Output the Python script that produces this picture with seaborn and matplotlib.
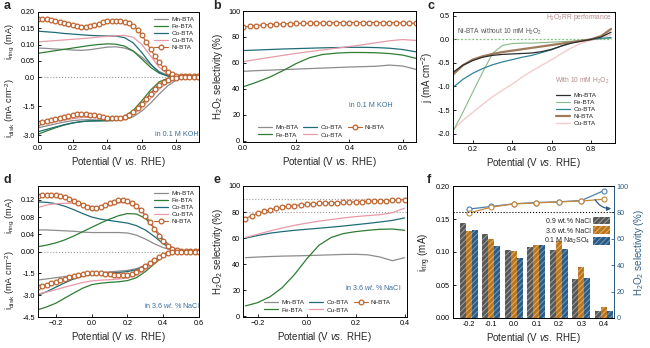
import numpy as np
import pandas as pd
import matplotlib
matplotlib.use("Agg")
import matplotlib.pyplot as plt
from matplotlib.patches import Patch
import seaborn as sns

# ---------------- data ----------------
# panel a (0.1 M KOH), ring current (mA) and disk current (mA cm-2)
A_X = [0.00, 0.05, 0.10, 0.15, 0.20, 0.25, 0.30, 0.35, 0.40, 0.45,
       0.50, 0.55, 0.60, 0.65, 0.70, 0.75, 0.80, 0.85, 0.90, 0.95]
A_RING_MN = [0.089, 0.088, 0.086, 0.085, 0.083, 0.082, 0.084, 0.088, 0.092, 0.093,
             0.089, 0.080, 0.061, 0.038, 0.017, 0.005, 0.002, 0.002, 0.002, 0.002]
A_RING_FE = [0.073, 0.077, 0.081, 0.085, 0.089, 0.093, 0.097, 0.100, 0.102, 0.101,
             0.095, 0.080, 0.055, 0.030, 0.012, 0.003, 0.002, 0.002, 0.002, 0.002]
A_RING_CO = [0.141, 0.139, 0.137, 0.134, 0.132, 0.130, 0.128, 0.127, 0.126, 0.126,
             0.121, 0.105, 0.075, 0.040, 0.014, 0.003, 0.002, 0.002, 0.002, 0.002]
A_RING_CU = [0.108, 0.110, 0.112, 0.114, 0.116, 0.118, 0.120, 0.123, 0.125, 0.127,
             0.128, 0.122, 0.100, 0.065, 0.030, 0.010, 0.003, 0.002, 0.002, 0.002]
A_DISK_MN = [-2.62, -2.52, -2.42, -2.32, -2.25, -2.21, -2.20, -2.22, -2.24, -2.24,
             -2.20, -2.05, -1.75, -1.35, -0.88, -0.45, -0.15, -0.04, -0.01, -0.01]
A_DISK_FE = [-2.95, -2.78, -2.62, -2.48, -2.37, -2.30, -2.26, -2.24, -2.22, -2.17,
             -2.03, -1.72, -1.22, -0.68, -0.25, -0.07, -0.02, -0.01, -0.01, -0.01]
A_DISK_CO = [-2.82, -2.70, -2.58, -2.46, -2.37, -2.30, -2.27, -2.27, -2.26, -2.23,
             -2.12, -1.85, -1.40, -0.85, -0.38, -0.12, -0.03, -0.01, -0.01, -0.01]
A_DISK_CU = [-2.45, -2.38, -2.30, -2.22, -2.15, -2.09, -2.07, -2.10, -2.15, -2.17,
             -2.12, -1.92, -1.55, -1.10, -0.62, -0.27, -0.08, -0.02, -0.01, -0.01]
A_X_NI = [0.000, 0.025, 0.050, 0.075, 0.100, 0.125, 0.150, 0.175, 0.200, 0.225,
          0.250, 0.275, 0.300, 0.325, 0.350, 0.375, 0.400, 0.425, 0.450, 0.475,
          0.500, 0.525, 0.550, 0.575, 0.600, 0.625, 0.650, 0.675, 0.700, 0.725,
          0.750, 0.775, 0.800, 0.825, 0.850, 0.875, 0.900, 0.925, 0.950]
A_RING_NI = [0.178, 0.178, 0.177, 0.175, 0.173, 0.170, 0.166, 0.162, 0.159, 0.157,
             0.155, 0.155, 0.157, 0.160, 0.164, 0.168, 0.171, 0.172, 0.172, 0.171,
             0.169, 0.165, 0.158, 0.146, 0.130, 0.108, 0.085, 0.064, 0.045, 0.028,
             0.015, 0.008, 0.004, 0.003, 0.003, 0.003, 0.003, 0.003, 0.003]
A_DISK_NI = [-2.35, -2.32, -2.28, -2.22, -2.16, -2.10, -2.04, -1.99, -1.95, -1.93,
             -1.92, -1.92, -1.94, -1.98, -2.03, -2.07, -2.10, -2.12, -2.12, -2.10,
             -2.05, -1.96, -1.82, -1.62, -1.38, -1.12, -0.86, -0.62, -0.42, -0.26,
             -0.14, -0.07, -0.03, -0.02, -0.01, -0.01, -0.01, -0.01, -0.01]

# panel b (0.1 M KOH), H2O2 selectivity (%)
B_X = [0.00, 0.05, 0.10, 0.15, 0.20, 0.25, 0.30, 0.35, 0.40, 0.45, 0.50, 0.55, 0.60, 0.65]
B_MN = [53.5, 54.0, 54.4, 54.8, 55.2, 55.6, 56.0, 56.4, 56.8, 57.1, 57.4, 58.3, 57.6, 55.0]
B_FE = [41.5, 45.0, 49.0, 54.0, 59.5, 64.0, 66.5, 67.5, 68.0, 68.0, 67.8, 67.2, 66.0, 63.5]
B_CO = [69.5, 69.9, 70.3, 70.7, 71.0, 71.3, 71.6, 71.8, 72.0, 72.0, 71.8, 71.3, 70.3, 68.5]
B_CU = [61.0, 62.6, 64.2, 65.8, 67.3, 68.7, 70.0, 71.3, 72.6, 74.0, 75.5, 77.0, 78.0, 77.3]
B_X_NI = [0.000, 0.025, 0.050, 0.075, 0.100, 0.125, 0.150, 0.175, 0.200, 0.225,
          0.250, 0.275, 0.300, 0.325, 0.350, 0.375, 0.400, 0.425, 0.450, 0.475,
          0.500, 0.525, 0.550, 0.575, 0.600, 0.625, 0.650]
B_NI = [87.5, 88.3, 88.8, 89.2, 89.5, 89.8, 90.0, 90.2, 90.4, 90.5,
        90.6, 90.7, 90.8, 90.9, 91.0, 91.0, 91.1, 91.1, 91.1, 91.1,
        91.1, 91.0, 91.0, 90.9, 90.8, 90.7, 90.5]

# panel c (H2O2RR), j (mA cm-2)
C_X = [0.10, 0.15, 0.20, 0.25, 0.30, 0.35, 0.40, 0.45, 0.50, 0.55,
       0.60, 0.65, 0.70, 0.75, 0.80, 0.85, 0.90]
C_MN = [-0.70, -0.55, -0.45, -0.38, -0.34, -0.32, -0.31, -0.30, -0.29, -0.26,
        -0.21, -0.14, -0.08, -0.04, 0.00, 0.05, 0.15]
C_FE = [-1.95, -1.55, -1.12, -0.70, -0.30, -0.13, -0.09, -0.08, -0.08, -0.07,
        -0.06, -0.05, -0.04, -0.02, 0.00, 0.01, 0.02]
C_CO = [-1.02, -0.85, -0.72, -0.62, -0.54, -0.48, -0.43, -0.38, -0.34, -0.28,
        -0.22, -0.14, -0.07, -0.03, 0.00, 0.02, 0.04]
C_NI = [-0.75, -0.55, -0.43, -0.36, -0.31, -0.27, -0.24, -0.21, -0.18, -0.15,
        -0.12, -0.09, -0.06, -0.03, 0.00, 0.07, 0.22]
C_CU = [-1.92, -1.72, -1.55, -1.38, -1.22, -1.08, -0.95, -0.80, -0.67, -0.55,
        -0.43, -0.30, -0.18, -0.08, -0.02, 0.03, 0.10]
C_NI_BLANK = [0.00, 0.00, 0.00, 0.00, 0.00, 0.00, 0.00, 0.00, 0.00, 0.00,
              0.00, 0.00, 0.00, 0.00, 0.00, 0.00, 0.00]

# panel d (3.6 wt.% NaCl)
D_X = [-0.30, -0.25, -0.20, -0.15, -0.10, -0.05, 0.00, 0.05, 0.10, 0.15,
       0.20, 0.25, 0.30, 0.35, 0.40, 0.45, 0.50, 0.55, 0.60]
D_RING_MN = [0.050, 0.050, 0.049, 0.048, 0.047, 0.045, 0.044, 0.044, 0.044, 0.044,
             0.043, 0.038, 0.029, 0.018, 0.009, 0.003, 0.001, 0.001, 0.001]
D_RING_FE = [0.011, 0.015, 0.020, 0.027, 0.036, 0.046, 0.056, 0.066, 0.075, 0.083,
             0.088, 0.087, 0.077, 0.055, 0.028, 0.008, 0.002, 0.001, 0.001]
D_RING_CO = [0.115, 0.114, 0.111, 0.105, 0.097, 0.088, 0.080, 0.075, 0.072, 0.069,
             0.066, 0.060, 0.050, 0.035, 0.018, 0.006, 0.002, 0.001, 0.001]
D_RING_CU = [0.102, 0.108, 0.111, 0.112, 0.112, 0.109, 0.104, 0.103, 0.107, 0.113,
             0.114, 0.105, 0.085, 0.055, 0.025, 0.008, 0.002, 0.001, 0.001]
D_DISK_MN = [-1.96, -1.88, -1.80, -1.72, -1.64, -1.56, -1.50, -1.45, -1.40, -1.35,
             -1.30, -1.18, -0.95, -0.62, -0.28, -0.08, -0.02, -0.01, -0.01]
D_DISK_FE = [-4.00, -3.80, -3.55, -3.20, -2.85, -2.52, -2.28, -2.18, -2.12, -2.08,
             -2.00, -1.80, -1.38, -0.85, -0.35, -0.10, -0.02, -0.01, -0.01]
D_DISK_CO = [-3.00, -2.75, -2.45, -2.15, -1.88, -1.70, -1.58, -1.52, -1.48, -1.44,
             -1.38, -1.25, -1.00, -0.66, -0.30, -0.09, -0.02, -0.01, -0.01]
D_DISK_CU = [-2.92, -2.78, -2.62, -2.45, -2.28, -2.13, -2.02, -1.97, -1.94, -1.89,
             -1.82, -1.62, -1.25, -0.78, -0.33, -0.09, -0.02, -0.01, -0.01]
D_X_NI = [-0.300, -0.275, -0.250, -0.225, -0.200, -0.175, -0.150, -0.125, -0.100, -0.075,
          -0.050, -0.025, 0.000, 0.025, 0.050, 0.075, 0.100, 0.125, 0.150, 0.175,
          0.200, 0.225, 0.250, 0.275, 0.300, 0.325, 0.350, 0.375, 0.400, 0.425,
          0.450, 0.475, 0.500, 0.525, 0.550, 0.575, 0.600]
D_RING_NI = [0.128, 0.130, 0.131, 0.132, 0.131, 0.129, 0.126, 0.122, 0.118, 0.113,
             0.108, 0.104, 0.102, 0.101, 0.103, 0.107, 0.112, 0.116, 0.119, 0.119,
             0.117, 0.113, 0.106, 0.096, 0.083, 0.068, 0.052, 0.037, 0.024, 0.013,
             0.006, 0.003, 0.002, 0.002, 0.002, 0.002, 0.002]
D_DISK_NI = [-2.47, -2.38, -2.28, -2.18, -2.08, -1.98, -1.88, -1.78, -1.69, -1.61,
             -1.54, -1.49, -1.46, -1.45, -1.47, -1.52, -1.58, -1.62, -1.64, -1.64,
             -1.60, -1.52, -1.38, -1.20, -1.00, -0.78, -0.57, -0.38, -0.22, -0.11,
             -0.05, -0.02, -0.01, -0.01, -0.01, -0.01, -0.01]

# panel e (3.6 wt.% NaCl), H2O2 selectivity (%)
E_X = [-0.25, -0.20, -0.15, -0.10, -0.05, 0.00, 0.05, 0.10, 0.15, 0.20, 0.25, 0.30, 0.35, 0.40]
E_MN = [45.0, 45.5, 45.9, 46.2, 46.4, 46.6, 46.9, 47.2, 47.5, 47.6, 47.2, 45.5, 42.7, 45.0]
E_FE = [8.0, 10.5, 15.0, 22.0, 32.0, 44.0, 54.5, 60.5, 63.5, 65.0, 66.0, 66.8, 67.0, 66.0]
E_CO = [60.0, 62.0, 63.8, 65.0, 66.0, 66.8, 67.6, 68.4, 69.3, 70.3, 71.3, 72.4, 73.6, 75.5]
E_CU = [60.5, 63.0, 65.5, 67.8, 69.8, 71.5, 73.0, 74.3, 75.5, 76.5, 77.3, 78.0, 79.5, 83.0]
E_X_NI = [-0.250, -0.225, -0.200, -0.175, -0.150, -0.125, -0.100, -0.075, -0.050, -0.025,
          0.000, 0.025, 0.050, 0.075, 0.100, 0.125, 0.150, 0.175, 0.200, 0.225,
          0.250, 0.275, 0.300, 0.325, 0.350, 0.375, 0.400]
E_NI = [75.0, 77.2, 79.0, 80.5, 81.8, 82.8, 83.7, 84.4, 85.0, 85.5,
        85.9, 86.3, 86.6, 86.9, 87.1, 87.3, 87.5, 87.7, 87.9, 88.0,
        88.2, 88.4, 88.6, 88.8, 89.0, 89.3, 89.6]

# panel f
F_POT = ["-0.2", "-0.1", "0.0", "0.1", "0.2", "0.3", "0.4"]
F_ELEC = ["0.9 wt.% NaCl", "3.6 wt.% NaCl", "0.1 M Na$_2$SO$_4$"]
F_RING_NACL09 = [0.144, 0.127, 0.103, 0.107, 0.103, 0.059, 0.010]
F_RING_NACL36 = [0.132, 0.119, 0.101, 0.111, 0.116, 0.078, 0.016]
F_RING_NA2SO4 = [0.133, 0.109, 0.091, 0.110, 0.105, 0.061, 0.011]
F_SEL_NACL36 = [79.5, 84.0, 86.4, 87.2, 88.0, 88.6, 90.0]
F_SEL_NA2SO4 = [82.5, 84.5, 86.5, 87.5, 88.0, 89.0, 96.5]

# ---------------- style ----------------
sns.set_theme(style="ticks")
plt.rcParams["font.family"] = ["Liberation Sans", "DejaVu Sans"]
plt.rcParams["mathtext.fontset"] = "custom"
plt.rcParams["mathtext.rm"] = "Liberation Sans"
plt.rcParams["mathtext.it"] = "Liberation Sans:italic"
plt.rcParams["mathtext.bf"] = "Liberation Sans:bold"
plt.rcParams["hatch.linewidth"] = 0.7

MN, FE, CO, CU, NI = "#8c8c8c", "#2e7d34", "#1f6c78", "#e79aa8", "#c0622c"
TXT_BLUE = "#3a6d9a"
TICK_FS, LAB_FS, LEG_FS = 5.2, 7, 4.6
XLAB = r"Potential (V $\it{vs.}$ RHE)"
NI_MK = dict(marker="o", markersize=3.4, markerfacecolor="white",
             markeredgecolor=NI, markeredgewidth=0.9)

W, H = 650, 348
fig = plt.figure(figsize=(6.5, 3.48), dpi=100)


def px_axes(l, t, r, b):
    return fig.add_axes([l / W, 1 - b / H, (r - l) / W, (b - t) / H])


def style(ax):
    for s in ax.spines.values():
        s.set_linewidth(0.7)
        s.set_color("black")
    ax.tick_params(direction="in", length=2.5, width=0.6, labelsize=TICK_FS,
                   pad=2, colors="black")


def leg(ax, **kw):
    l = ax.legend(fontsize=LEG_FS, frameon=False, handlelength=2.2,
                  handletextpad=0.5, labelspacing=0.25, borderaxespad=0.3, **kw)
    return l


# ---------------- panel a ----------------
RA, DA = 0.20, 3.35
ax = px_axes(38, 12, 199, 142)
for vals, c, lab in [(A_RING_MN, MN, "Mn-BTA"), (A_RING_FE, FE, "Fe-BTA"),
                     (A_RING_CO, CO, "Co-BTA"), (A_RING_CU, CU, "Cu-BTA")]:
    sns.lineplot(x=A_X, y=np.array(vals) / RA, color=c, lw=0.9, label=lab, ax=ax)
for vals, c in [(A_DISK_MN, MN), (A_DISK_FE, FE), (A_DISK_CO, CO), (A_DISK_CU, CU)]:
    sns.lineplot(x=A_X, y=np.array(vals) / DA, color=c, lw=0.9, ax=ax)
sns.lineplot(x=A_X_NI, y=np.array(A_RING_NI) / RA, color=NI, lw=0.8, label="Ni-BTA", ax=ax, **NI_MK)
sns.lineplot(x=A_X_NI, y=np.array(A_DISK_NI) / DA, color=NI, lw=0.8, ax=ax, **NI_MK)
ax.axhline(0, ls=":", color="#999999", lw=0.8, zorder=0)
ax.set_xlim(0, 0.93)
ax.set_ylim(-1, 1)
ax.set_xticks([0.0, 0.2, 0.4, 0.6, 0.8])
ax.set_yticks([0.05 / RA, 0.10 / RA, 0.15 / RA, 0.20 / RA, 0, -1.5 / DA, -3.0 / DA])
ax.set_yticklabels(["0.05", "0.10", "0.15", "0.20", "0.0", "-1.5", "-3.0"])
ax.set_xlabel(XLAB, fontsize=LAB_FS, labelpad=2)
ax.set_ylabel("")
ax.text(0.80, -0.89, "in 0.1 M KOH", fontsize=5.2, color=TXT_BLUE, ha="center", va="center")
leg(ax, loc="upper right")
style(ax)
fig.text(10 / W, 1 - 42 / H, r"i$_{\rm ring}$ (mA)", rotation=90, fontsize=6.6, ha="center", va="center")
fig.text(10 / W, 1 - 108 / H, r"i$_{\rm disk}$ (mA cm$^{-2}$)", rotation=90, fontsize=6.6, ha="center", va="center")

# ---------------- panel b ----------------
ax = px_axes(243, 11, 416, 142)
sns.lineplot(x=B_X, y=B_MN, color=MN, lw=0.9, label="Mn-BTA", ax=ax)
sns.lineplot(x=B_X, y=B_FE, color=FE, lw=0.9, label="Fe-BTA", ax=ax)
sns.lineplot(x=B_X, y=B_CO, color=CO, lw=0.9, label="Co-BTA", ax=ax)
sns.lineplot(x=B_X, y=B_CU, color=CU, lw=0.9, label="Cu-BTA", ax=ax)
sns.lineplot(x=B_X_NI, y=B_NI, color=NI, lw=0.8, label="Ni-BTA", ax=ax, **NI_MK)
ax.set_xlim(0, 0.65)
ax.set_ylim(-1, 100)
ax.set_xticks([0.0, 0.2, 0.4, 0.6])
ax.set_yticks([0, 20, 40, 60, 80, 100])
ax.set_xlabel(XLAB, fontsize=LAB_FS, labelpad=2)
ax.set_ylabel(r"H$_2$O$_2$ selectivity (%)", fontsize=LAB_FS, labelpad=2)
ax.text(0.48, 27, "in 0.1 M KOH", fontsize=5.2, color=TXT_BLUE, ha="center", va="center")
leg(ax, loc="lower left", bbox_to_anchor=(0.06, 0.0), ncol=3, columnspacing=0.8)
style(ax)

# ---------------- panel c ----------------
ax = px_axes(453, 12, 615, 143)
sns.lineplot(x=C_X, y=C_NI_BLANK, color="#7cc47c", lw=0.9, ls=(0, (1.5, 1.5)), ax=ax)
sns.lineplot(x=C_X, y=C_CU, color="#f3cccc", lw=1.0, label="Cu-BTA", ax=ax)
sns.lineplot(x=C_X, y=C_FE, color="#86b886", lw=0.8, label="Fe-BTA", ax=ax)
sns.lineplot(x=C_X, y=C_CO, color="#2f8597", lw=0.9, label="Co-BTA", ax=ax)
sns.lineplot(x=C_X, y=C_NI, color="#9e7a5a", lw=1.6, label="Ni-BTA", ax=ax)
sns.lineplot(x=C_X, y=C_MN, color="#2e2e2e", lw=0.9, label="Mn-BTA", ax=ax)
ax.set_xlim(0.10, 0.92)
ax.set_ylim(-2.2, 0.58)
ax.set_xticks([0.2, 0.4, 0.6, 0.8])
ax.set_yticks([0.5, 0.0, -0.5, -1.0, -1.5, -2.0])
ax.set_yticklabels(["0.5", "0.0", "-0.5", "-1.0", "-1.5", "-2.0"])
ax.set_xlabel(XLAB, fontsize=LAB_FS, labelpad=2)
ax.set_ylabel(r"j (mA cm$^{-2}$)", fontsize=LAB_FS, labelpad=2)
ax.text(0.905, 0.46, r"H$_2$O$_2$RR performance", fontsize=4.8, color="#b58a8a", ha="right", va="center")
ax.text(0.12, 0.15, r"Ni-BTA without 10 mM H$_2$O$_2$", fontsize=4.8, color="#555555", ha="left", va="center")
ax.text(0.615, -0.89, r"With 10 mM H$_2$O$_2$", fontsize=4.8, color="#b58a8a", ha="left", va="center")
h, l = ax.get_legend_handles_labels()
order = ["Mn-BTA", "Fe-BTA", "Co-BTA", "Ni-BTA", "Cu-BTA"]
hd = dict(zip(l, h))
ax.legend([hd[k] for k in order], order, fontsize=LEG_FS, frameon=False, handlelength=2.2,
          handletextpad=0.5, labelspacing=0.25, loc="upper left", bbox_to_anchor=(0.6, 0.43))
style(ax)

# ---------------- panel d ----------------
RD, DD = 0.152, 4.5
ax = px_axes(38, 186, 199, 317)
for vals, c, lab in [(D_RING_MN, MN, "Mn-BTA"), (D_RING_FE, FE, "Fe-BTA"),
                     (D_RING_CO, CO, "Co-BTA"), (D_RING_CU, CU, "Cu-BTA")]:
    sns.lineplot(x=D_X, y=np.array(vals) / RD, color=c, lw=0.9, label=lab, ax=ax)
for vals, c in [(D_DISK_MN, MN), (D_DISK_FE, FE), (D_DISK_CO, CO), (D_DISK_CU, CU)]:
    sns.lineplot(x=D_X, y=np.array(vals) / DD, color=c, lw=0.9, ax=ax)
sns.lineplot(x=D_X_NI, y=np.array(D_RING_NI) / RD, color=NI, lw=0.8, label="Ni-BTA", ax=ax, **NI_MK)
sns.lineplot(x=D_X_NI, y=np.array(D_DISK_NI) / DD, color=NI, lw=0.8, ax=ax, **NI_MK)
ax.axhline(0, ls=":", color="#999999", lw=0.8, zorder=0)
ax.set_xlim(-0.3, 0.6)
ax.set_ylim(-1, 1)
ax.set_xticks([-0.2, 0.0, 0.2, 0.4, 0.6])
ax.set_yticks([0.04 / RD, 0.08 / RD, 0.12 / RD, 0, -1.5 / DD, -3.0 / DD, -4.5 / DD])
ax.set_yticklabels(["0.04", "0.08", "0.12", "0.00", "-1.5", "-3.0", "-4.5"])
ax.set_xlabel(XLAB, fontsize=LAB_FS, labelpad=2)
ax.set_ylabel("")
ax.text(0.45, -0.82, r"in 3.6 $\it{wt.}$% NaCl", fontsize=5.2, color=TXT_BLUE, ha="center", va="center")
leg(ax, loc="upper right")
style(ax)
fig.text(10 / W, 1 - 216 / H, r"i$_{\rm ring}$ (mA)", rotation=90, fontsize=6.6, ha="center", va="center")
fig.text(10 / W, 1 - 280 / H, r"i$_{\rm disk}$ (mA cm$^{-2}$)", rotation=90, fontsize=6.6, ha="center", va="center")

# ---------------- panel e ----------------
ax = px_axes(243, 186, 407, 317)
sns.lineplot(x=E_X, y=E_MN, color=MN, lw=0.9, label="Mn-BTA", ax=ax)
sns.lineplot(x=E_X, y=E_FE, color=FE, lw=0.9, label="Fe-BTA", ax=ax)
sns.lineplot(x=E_X, y=E_CO, color=CO, lw=0.9, label="Co-BTA", ax=ax)
sns.lineplot(x=E_X, y=E_CU, color=CU, lw=0.9, label="Cu-BTA", ax=ax)
sns.lineplot(x=E_X_NI, y=E_NI, color=NI, lw=0.8, label="Ni-BTA", ax=ax, **NI_MK)
ax.axhline(90, ls=":", color="#999999", lw=0.8, zorder=0)
ax.axhline(80, ls=":", color="#999999", lw=0.8, zorder=0)
ax.set_xlim(-0.26, 0.41)
ax.set_ylim(-0.5, 100)
ax.set_xticks([-0.2, 0.0, 0.2, 0.4])
ax.set_yticks([0, 20, 40, 60, 80, 100])
ax.set_xlabel(XLAB, fontsize=LAB_FS, labelpad=2)
ax.set_ylabel(r"H$_2$O$_2$ selectivity (%)", fontsize=LAB_FS, labelpad=2)
ax.text(0.27, 22, r"in 3.6 $\it{wt.}$% NaCl", fontsize=5.2, color=TXT_BLUE, ha="center", va="center")
leg(ax, loc="lower left", bbox_to_anchor=(0.1, 0.0), ncol=3, columnspacing=0.8)
style(ax)

# ---------------- panel f ----------------
BLUE = "#2f5f88"
ax = px_axes(453, 186, 614, 318)
df = pd.DataFrame({
    "pot": F_POT * 3,
    "ring": F_RING_NACL09 + F_RING_NACL36 + F_RING_NA2SO4,
    "elec": [F_ELEC[0]] * 7 + [F_ELEC[1]] * 7 + [F_ELEC[2]] * 7,
})
bar_cols = ["#575757", "#b8761f", "#2d5b82"]
hatch_cols = ["#a0a0a0", "#e6b070", "#6e9cc6"]
sns.barplot(data=df, x="pot", y="ring", hue="elec", order=F_POT, hue_order=F_ELEC,
            palette=bar_cols, saturation=1, width=0.8, legend=False, ax=ax)
for cont, hc in zip(ax.containers, hatch_cols):
    for bar in cont:
        bar.set_hatch("//////")
        bar.set_edgecolor(hc)
        bar.set_linewidth(0)
ax.set_ylim(0, 0.2)
ax.set_yticks([0.00, 0.05, 0.10, 0.15, 0.20])
ax.set_yticklabels(["0.00", "0.05", "0.10", "0.15", "0.20"])
ax.set_xlabel(XLAB, fontsize=LAB_FS, labelpad=2)
ax.set_ylabel(r"i$_{\rm ring}$ (mA)", fontsize=LAB_FS, labelpad=2)
style(ax)
handles = [Patch(facecolor=fc, edgecolor=hc, hatch="//////", lw=0, label=lab)
           for fc, hc, lab in zip(bar_cols, hatch_cols, F_ELEC)]
ax.legend(handles=handles, fontsize=LEG_FS + 0.4, frameon=False, markerfirst=False,
          handlelength=2.4, handleheight=1.3, handletextpad=0.4, labelspacing=0.25,
          loc="upper right", bbox_to_anchor=(1.0, 0.80), borderaxespad=0.2)

ax2 = ax.twinx()
sns.pointplot(x=F_POT, y=F_SEL_NA2SO4, color="#4a7fb0", markers="o", linestyles="-",
              markersize=3.6, markerfacecolor="white", markeredgewidth=0.8, linewidth=0.9, ax=ax2)
sns.pointplot(x=F_POT, y=F_SEL_NACL36, color="#c8883a", markers="o", linestyles="-",
              markersize=3.6, markerfacecolor="white", markeredgewidth=0.8, linewidth=0.9, ax=ax2)
ax2.axhline(80, ls=":", color="black", lw=0.8)
ax2.set_ylim(0, 100)
ax2.set_yticks([0, 20, 40, 60, 80, 100])
ax2.set_ylabel(r"H$_2$O$_2$ selectivity (%)", fontsize=LAB_FS, color=BLUE, labelpad=2)
ax2.annotate("", xy=(6.45, 83), xytext=(5.55, 91.5),
             arrowprops=dict(arrowstyle="-|>", color=BLUE, lw=0.9, mutation_scale=6,
                             connectionstyle="arc3,rad=0.35"))
style(ax2)
ax2.spines["right"].set_color(BLUE)
ax2.tick_params(axis="y", colors=BLUE)
ax.set_xlim(-0.7, 6.45)
ax2.set_xlim(-0.7, 6.45)

# ---------------- panel letters ----------------
for ch, x, y in [("a", 4, 6), ("b", 213, 6), ("c", 427, 6),
                 ("d", 4, 180), ("e", 213, 180), ("f", 427, 180)]:
    fig.text(x / W, 1 - y / H, ch, fontsize=9, fontweight="bold", ha="left", va="center")

fig.savefig("out.png", dpi=100)
